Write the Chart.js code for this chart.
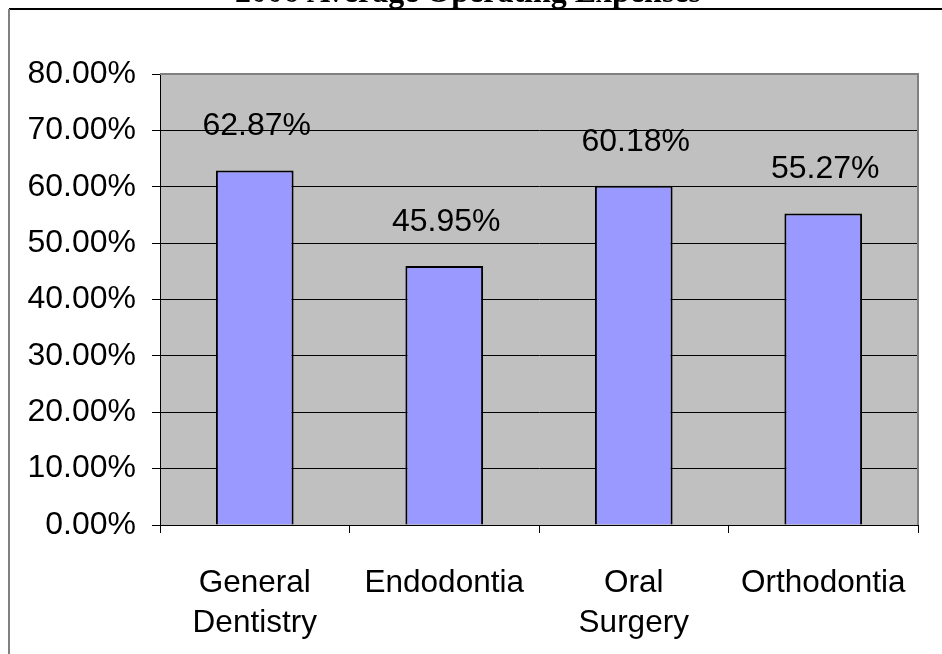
<!DOCTYPE html>
<html>
<head>
<meta charset="utf-8">
<script src="https://cdn.jsdelivr.net/npm/chart.js@4"></script>
<style>
  html, body { margin: 0; padding: 0; background: #fff; }
  #wrap { width: 942px; height: 654px; overflow: hidden; }
</style>
</head>
<body>
<div id="wrap"><canvas id="chart" width="942" height="654"></canvas></div>
<script>
// data
var chartTitle = '2006 Average Operating Expenses';
var categories = [['General', 'Dentistry'], 'Endodontia', ['Oral', 'Surgery'], 'Orthodontia'];
var expenses = [62.87, 45.95, 60.18, 55.27];
var yTicks = [0, 10, 20, 30, 40, 50, 60, 70, 80];

// frame, title and grey plot background
var backdrop = {
    id: 'backdrop',
    beforeDraw: function (chart) {
        var ctx = chart.ctx, a = chart.chartArea;
        ctx.save();
        ctx.fillStyle = '#C0C0C0';
        ctx.fillRect(a.left, a.top, a.right - a.left, a.bottom - a.top);
        // outer frame
        ctx.strokeStyle = '#000';
        ctx.lineWidth = 2;
        ctx.beginPath();
        ctx.moveTo(9, 9); ctx.lineTo(942, 9);
        ctx.stroke();
        ctx.strokeStyle = '#808080';
        ctx.beginPath();
        ctx.moveTo(9, 9); ctx.lineTo(9, 654);
        ctx.stroke();
        // title, cut off at the top like the original
        ctx.fillStyle = '#000';
        ctx.font = 'bold 32px "Liberation Serif", "Times New Roman", serif';
        ctx.textAlign = 'center';
        ctx.textBaseline = 'alphabetic';
        ctx.fillText(chartTitle, 468, 2);
        ctx.restore();
    },
    afterDraw: function (chart) {
        var ctx = chart.ctx, a = chart.chartArea;
        ctx.save();
        ctx.strokeStyle = '#808080';
        ctx.lineWidth = 2;
        ctx.beginPath();
        ctx.moveTo(a.left, a.top);
        ctx.lineTo(a.right, a.top);
        ctx.lineTo(a.right, a.bottom);
        ctx.stroke();
        ctx.restore();
    }
};

// value labels above the bars
var valueLabels = {
    id: 'valueLabels',
    afterDatasetsDraw: function (chart) {
        var ctx = chart.ctx;
        var meta = chart.getDatasetMeta(0);
        ctx.save();
        ctx.fillStyle = '#000';
        ctx.font = '32px "Liberation Sans", Arial, sans-serif';
        ctx.textAlign = 'center';
        ctx.textBaseline = 'middle';
        meta.data.forEach(function (bar, i) {
            ctx.fillText(expenses[i].toFixed(2) + '%', bar.x + 2, bar.y - 44);
        });
        ctx.restore();
    }
};

new Chart(document.getElementById('chart'), {
    type: 'bar',
    data: {
        labels: categories,
        datasets: [{
            data: expenses,
            backgroundColor: '#9999FF',
            borderColor: '#000',
            borderWidth: 2,
            barPercentage: 0.41,
            categoryPercentage: 1
        }]
    },
    options: {
        responsive: false,
        animation: false,
        devicePixelRatio: 1,
        layout: { padding: { top: 74, right: 24, left: 0, bottom: 0 } },
        plugins: {
            legend: { display: false },
            tooltip: { enabled: false },
            title: { display: false }
        },
        scales: {
            x: {
                offset: true,
                grid: {
                    offset: true,
                    drawOnChartArea: false,
                    drawTicks: true,
                    tickLength: 8,
                    tickColor: '#000'
                },
                border: { color: '#000', width: 1 },
                ticks: {
                    color: '#000',
                    padding: 30,
                    maxRotation: 0,
                    font: { family: '"Liberation Sans", Arial, sans-serif', size: 31.5, lineHeight: 1.27 }
                },
                afterFit: function (s) { s.height = 129; }
            },
            y: {
                min: 0,
                max: 80,
                afterBuildTicks: function (s) {
                    s.ticks = yTicks.map(function (v) { return { value: v }; });
                },
                grid: {
                    color: function (c) { return c.tick && c.tick.value === 80 ? '#808080' : '#000'; },
                    tickLength: 8,
                    tickColor: '#000'
                },
                border: { color: '#000', width: 1 },
                ticks: {
                    color: '#000',
                    padding: 16,
                    font: { family: '"Liberation Sans", Arial, sans-serif', size: 32 },
                    callback: function (v) { return Number(v).toFixed(2) + '%'; }
                },
                afterFit: function (s) { s.width = 160; }
            }
        }
    },
    plugins: [backdrop, valueLabels]
});
</script>
</body>
</html>
